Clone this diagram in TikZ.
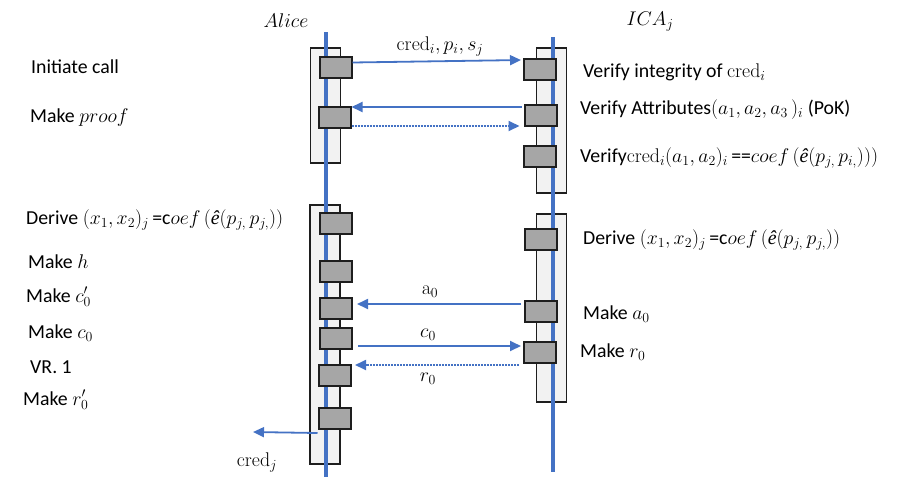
\documentclass[tikz,border=0pt]{standalone}
\usepackage{fix-cm}
\usepackage[no-math]{fontspec}
\setmainfont{Carlito}
\newfontfamily\serifit{Liberation Serif}
\newcommand{\ehat}{\mbox{\serifit\itshape ê}}
\usetikzlibrary{arrows.meta}
\definecolor{lblue}{HTML}{4472C4}
\definecolor{boxgray}{HTML}{A6A6A6}
\definecolor{bargray}{HTML}{F2F2F2}
\definecolor{edge}{HTML}{1E1E1E}
\begin{document}
\begin{tikzpicture}[x=1pt,y=-1pt,
  every node/.style={font=\fontsize{19.8}{24}\selectfont},
  actbar/.style={draw=edge, fill=bargray, line width=1.6pt, inner sep=0pt, minimum width=30pt},
  actbox/.style={draw=edge, fill=boxgray, line width=2pt, inner sep=0pt, minimum width=32pt, minimum height=21pt},
  lifeline/.style={draw=lblue, line width=3.4pt},
  msg/.style={draw=lblue, line width=1.8pt, -{Triangle[length=11pt,width=10pt]}},
  dmsg/.style={msg, dash pattern=on 2pt off 1pt},
  lbl/.style={anchor=west, inner sep=0pt},
  mlbl/.style={inner sep=0pt}]
\useasboundingbox (0,0) rectangle (909,477);
% activation bars
\node[actbar, minimum height=115pt] (A1) at (325.5,105.5) {};
\node[actbar, minimum height=259pt] (A2) at (325,334.5) {};
\node[actbar, minimum height=145pt] (B1) at (551.5,120.5) {};
\node[actbar, minimum height=188pt] (B2) at (551.5,308) {};
% lifelines
\coordinate (aTop) at (326,32);
\coordinate (aBot) at (326,477);
\coordinate (bTop) at (553,37);
\coordinate (bBot) at (553,472);
\draw[lifeline] (aTop) -- (aBot);
\draw[lifeline] (bTop) -- (bBot);
% boxes Alice
\node[actbox] (a1) at (335.5,67.5) {};
\node[actbox] (a2) at (334.5,117.5) {};
\node[actbox] (a3) at (336,223) {};
\node[actbox] (a4) at (336,271.5) {};
\node[actbox] (a5) at (336,308.5) {};
\node[actbox] (a6) at (336,338.5) {};
\node[actbox] (a7) at (335,375) {};
\node[actbox] (a8) at (334.5,418.5) {};
% boxes ICA
\node[actbox] (b1) at (540,69) {};
\node[actbox] (b2) at (540.5,115.5) {};
\node[actbox] (b3) at (540,156.5) {};
\node[actbox] (b4) at (541,239.5) {};
\node[actbox] (b5) at (541,311) {};
\node[actbox] (b6) at (540,352) {};
% headers
\node[mlbl] (alice) at (286,21) {$Alice$};
\node[mlbl] (ica) at (650,22) {$ICA_j$};
% messages
\draw[msg, shorten >=2pt] ([yshift=5pt]a1.east) -- ([yshift=9pt]b1.west);
\node[mlbl] (m1) at (440,46) {$\mathrm{cred}_i, p_i, s_j$};
\draw[msg, shorten <=2pt] ([yshift=8.5pt]b2.west) -- ([yshift=10.5pt]a2.east);
\draw[dmsg, shorten >=4pt] ([yshift=-8.5pt]a2.east) -- ([yshift=-10.5pt]b2.west);
\draw[msg, shorten <=3pt, shorten >=4pt] ([yshift=7pt]b5.west) -- ([yshift=4.5pt]a5.east);
\node[mlbl] (m4) at (430,292) {$\mathrm{a}_0$};
\draw[msg, shorten <=5pt, shorten >=2pt] ([yshift=-7.5pt]a6.east) -- ([yshift=6pt]b6.west);
\node[mlbl] (m5) at (428,335) {$c_0$};
\draw[dmsg, shorten <=4pt, shorten >=3pt] ([yshift=-13pt]b6.west) -- ([yshift=10pt]a7.east);
\node[mlbl] (m6) at (428,379) {$r_0$};
\coordinate (credOut) at (253,432);
\draw[msg] ([yshift=-3pt]a8.south west) -- (credOut);
\node[mlbl] (m7) at (257,462) {$\mathrm{cred}_j$};
% left labels
\node[lbl] (t1) at (31,67) {Initiate call};
\node[lbl] (t2) at (30,118) {Make $proof$};
\node[lbl] (t3) at (26,220) {Derive $(x_1,x_2)_j$\,=c$oef\,(\ehat(p_{j,}\,p_{j,}))$};
\node[lbl] (t4) at (28,262) {Make $h$};
\node[lbl] (t5) at (26,297) {Make $c_0^{\prime}$};
\node[lbl] (t6) at (28,333) {Make $c_0$};
\node[lbl] (t7) at (30,367) {VR. 1};
\node[lbl] (t8) at (23,400) {Make $r_0^{\prime}$};
% right labels
\node[lbl] (r1) at (583,72) {Verify integrity of $\mathrm{cred}_i$};
\node[lbl] (r2) at (580,110) {Verify Attributes$(a_1,a_2,a_3\,)_i$ (PoK)};
\node[lbl] (r3) at (580,158) {Verify$\mathrm{cred}_i(a_1,a_2)_i$\,==$coef\,(\ehat(p_{j,}\,p_{i,})))$};
\node[lbl] (r4) at (583,240) {Derive $(x_1,x_2)_j$\,=c$oef\,(\ehat(p_{j,}\,p_{j,}))$};
\node[lbl] (r5) at (583,314) {Make $a_0$};
\node[lbl] (r6) at (580,352) {Make $r_0$};
\end{tikzpicture}
\end{document}
